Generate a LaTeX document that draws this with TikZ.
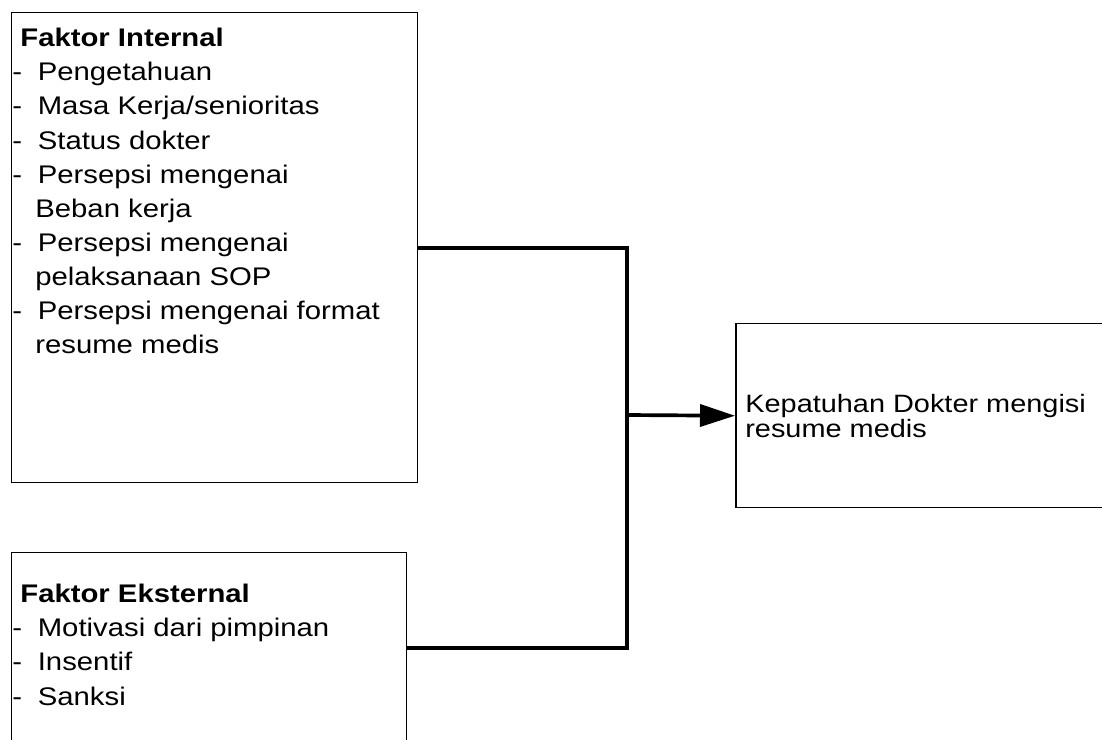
\documentclass[tikz,border=0pt]{standalone}
\usepackage{fontspec}
\setmainfont{Liberation Sans}[FakeStretch=1.15]
\usetikzlibrary{arrows.meta}
\newcommand{\itm}{\makebox[0.51cm][l]{-}}
\newcommand{\lanjut}{\hspace*{0.46cm}}

\begin{document}
\begin{tikzpicture}[x=0.02cm, y=-0.02cm,
		kotak/.style={draw, line width=0.85pt, inner sep=0pt, anchor=north west},
		isi/.style={inner sep=0pt, anchor=north west, align=left, font=\fontsize{14.5}{19.4}\selectfont},
		hasil/.style={inner sep=0pt, anchor=north west, align=left, font=\fontsize{14.3}{14.2}\selectfont},
		garis/.style={line width=2.1pt, line join=miter},
		panah/.style={line width=2.1pt, -{Triangle[length=0.7cm, width=0.44cm]}}]
			%%%%% START %%%%%
			
			\useasboundingbox (0,0) rectangle (1102,740);
			\clip (0,0) rectangle (1102,740);
			
			\node[kotak, minimum width=8.12cm, minimum height=9.4cm] (internal) at (11,12) {};
			\node[kotak, minimum width=7.9cm, minimum height=3.8cm] (eksternal) at (11,552) {};
			\node[kotak, minimum width=7.9cm, minimum height=3.68cm] (kepatuhan) at (735,323) {};
			
			\node[isi] (internal-isi) at ([shift={(1,16)}]internal.north west) {\hspace*{0.16cm}\textbf{Faktor Internal}\\
				\itm Pengetahuan\\
				\itm Masa Kerja/senioritas\\
				\itm Status dokter\\
				\itm Persepsi mengenai\\
				\lanjut Beban kerja\\
				\itm Persepsi mengenai\\
				\lanjut pelaksanaan SOP\\
				\itm Persepsi mengenai format\\
				\lanjut resume medis};
			
			\node[isi] (eksternal-isi) at ([shift={(1,32)}]eksternal.north west) {\hspace*{0.16cm}\textbf{Faktor Eksternal}\\
				\itm Motivasi dari pimpinan\\
				\itm Insentif\\
				\itm Sanksi};
			
			\node[hasil] (kepatuhan-isi) at ([shift={(10,71)}]kepatuhan.north west) {Kepatuhan Dokter mengisi\\
				resume medis};
			
			\coordinate (simpul) at (627,415);
			\draw[garis] (internal.east) -| (simpul) |- (eksternal.east);
			\draw[panah] (simpul) -- (kepatuhan.west);
			
			%%%%% END %%%%%
\end{tikzpicture}
\end{document}
